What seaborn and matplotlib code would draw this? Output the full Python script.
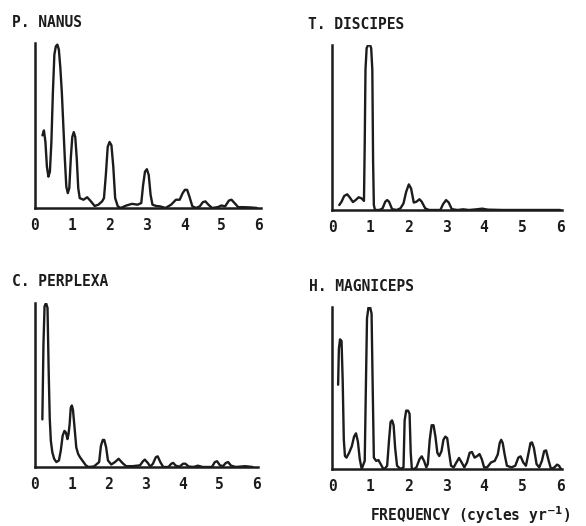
import matplotlib
matplotlib.use("Agg")
import matplotlib.pyplot as plt
import seaborn as sns
import pandas as pd

# Relative spectral power versus frequency (cycles per year) for four species.
nanus_freq = [0.20, 0.24, 0.28, 0.32, 0.36, 0.40, 0.44, 0.48, 0.52, 0.56, 0.60, 0.64,
              0.68, 0.72, 0.76, 0.80, 0.84, 0.88, 0.92, 0.96, 1.00, 1.04, 1.08, 1.12,
              1.16, 1.20, 1.30, 1.40, 1.50, 1.60, 1.70, 1.80, 1.85, 1.90, 1.95, 2.00,
              2.05, 2.10, 2.15, 2.22, 2.30, 2.45, 2.60, 2.75, 2.85, 2.90, 2.95, 3.00,
              3.05, 3.10, 3.15, 3.25, 3.35, 3.50, 3.65, 3.78, 3.88, 3.96, 4.02, 4.08,
              4.14, 4.22, 4.32, 4.42, 4.50, 4.57, 4.65, 4.75, 4.90, 5.00, 5.10, 5.20,
              5.27, 5.35, 5.45, 5.60, 5.80, 5.95]
nanus_power = [0.44, 0.47, 0.40, 0.25, 0.19, 0.22, 0.40, 0.70, 0.93, 0.98, 0.99, 0.96,
               0.85, 0.70, 0.50, 0.30, 0.13, 0.09, 0.12, 0.30, 0.43, 0.46, 0.43, 0.30,
               0.12, 0.06, 0.05, 0.065, 0.04, 0.012, 0.02, 0.04, 0.06, 0.20, 0.37, 0.40,
               0.38, 0.25, 0.06, 0.01, 0.0, 0.015, 0.025, 0.02, 0.03, 0.14, 0.22, 0.235,
               0.20, 0.08, 0.02, 0.012, 0.01, 0.0, 0.02, 0.05, 0.05, 0.09, 0.11, 0.11,
               0.07, 0.01, 0.0, 0.01, 0.035, 0.04, 0.02, 0.0, 0.005, 0.015, 0.01, 0.045,
               0.05, 0.03, 0.005, 0.005, 0.003, 0.0]

discipes_freq = [0.19, 0.25, 0.32, 0.40, 0.47, 0.55, 0.62, 0.70, 0.78, 0.84, 0.86, 0.88,
                 0.91, 0.95, 1.00, 1.03, 1.06, 1.08, 1.10, 1.13, 1.25, 1.33, 1.40, 1.45,
                 1.50, 1.58, 1.70, 1.80, 1.88, 1.95, 2.02, 2.08, 2.15, 2.22, 2.30, 2.36,
                 2.45, 2.55, 2.85, 2.92, 3.00, 3.07, 3.15, 3.30, 3.45, 3.60, 3.80, 3.95,
                 4.10, 4.50, 6.00]
discipes_power = [0.03, 0.05, 0.085, 0.095, 0.075, 0.048, 0.06, 0.077, 0.07, 0.055, 0.40, 0.85,
                  0.98, 1.00, 1.00, 0.98, 0.85, 0.30, 0.03, 0.0, 0.0, 0.01, 0.05, 0.06,
                  0.05, 0.005, 0.0, 0.01, 0.04, 0.11, 0.155, 0.13, 0.045, 0.05, 0.065, 0.05,
                  0.01, 0.0, 0.0, 0.035, 0.06, 0.045, 0.005, 0.0, 0.004, 0.0, 0.004, 0.008,
                  0.002, 0.0, 0.0]

perplexa_freq = [0.20, 0.23, 0.26, 0.30, 0.34, 0.37, 0.40, 0.43, 0.47, 0.52, 0.58, 0.65,
                 0.70, 0.75, 0.80, 0.84, 0.88, 0.91, 0.94, 0.97, 1.00, 1.03, 1.07, 1.12,
                 1.17, 1.22, 1.30, 1.38, 1.45, 1.60, 1.74, 1.79, 1.84, 1.88, 1.93, 1.98,
                 2.07, 2.17, 2.27, 2.37, 2.47, 2.65, 2.85, 2.93, 2.98, 3.06, 3.13, 3.20,
                 3.28, 3.33, 3.40, 3.48, 3.62, 3.70, 3.75, 3.82, 3.92, 4.02, 4.08, 4.17,
                 4.30, 4.42, 4.55, 4.80, 4.88, 4.94, 5.02, 5.10, 5.18, 5.24, 5.32, 5.45,
                 5.70, 5.90]
perplexa_power = [0.29, 0.75, 0.98, 1.00, 0.97, 0.60, 0.30, 0.16, 0.09, 0.05, 0.03, 0.04,
                  0.10, 0.19, 0.22, 0.21, 0.17, 0.20, 0.26, 0.36, 0.375, 0.35, 0.25, 0.12,
                  0.08, 0.06, 0.035, 0.01, 0.0, 0.003, 0.03, 0.13, 0.165, 0.165, 0.12, 0.04,
                  0.015, 0.03, 0.05, 0.025, 0.005, 0.005, 0.01, 0.035, 0.045, 0.025, 0.002, 0.02,
                  0.06, 0.065, 0.03, 0.0, 0.0, 0.02, 0.025, 0.008, 0.002, 0.02, 0.02, 0.003,
                  0.0, 0.008, 0.0, 0.0, 0.03, 0.035, 0.01, 0.005, 0.025, 0.03, 0.008, 0.0,
                  0.005, 0.0]

magniceps_freq = [0.16, 0.18, 0.21, 0.25, 0.28, 0.31, 0.34, 0.38, 0.45, 0.52, 0.58, 0.63,
                  0.68, 0.73, 0.78, 0.86, 0.89, 0.92, 0.96, 1.00, 1.04, 1.07, 1.10, 1.16,
                  1.22, 1.28, 1.35, 1.40, 1.45, 1.50, 1.54, 1.58, 1.62, 1.66, 1.71, 1.80,
                  1.88, 1.91, 1.95, 2.00, 2.04, 2.07, 2.10, 2.16, 2.22, 2.30, 2.36, 2.42,
                  2.48, 2.52, 2.57, 2.62, 2.67, 2.72, 2.77, 2.82, 2.88, 2.93, 2.98, 3.03,
                  3.08, 3.13, 3.20, 3.27, 3.34, 3.41, 3.48, 3.55, 3.62, 3.68, 3.75, 3.82,
                  3.88, 3.94, 4.00, 4.08, 4.18, 4.28, 4.36, 4.41, 4.45, 4.49, 4.54, 4.60,
                  4.72, 4.82, 4.90, 4.96, 5.03, 5.10, 5.17, 5.22, 5.26, 5.31, 5.38, 5.45,
                  5.52, 5.58, 5.63, 5.70, 5.76, 5.85, 5.92, 5.97, 6.02]
magniceps_power = [0.52, 0.74, 0.80, 0.79, 0.55, 0.18, 0.08, 0.07, 0.10, 0.14, 0.20, 0.22,
                   0.17, 0.06, 0.0, 0.05, 0.50, 0.93, 1.00, 1.00, 0.96, 0.50, 0.07, 0.05,
                   0.055, 0.03, 0.0, 0.005, 0.02, 0.18, 0.29, 0.30, 0.27, 0.13, 0.02, 0.0,
                   0.01, 0.30, 0.36, 0.36, 0.34, 0.10, 0.0, 0.0, 0.01, 0.06, 0.078, 0.05,
                   0.01, 0.03, 0.18, 0.27, 0.27, 0.20, 0.10, 0.08, 0.11, 0.18, 0.20, 0.19,
                   0.10, 0.02, 0.01, 0.04, 0.068, 0.04, 0.01, 0.04, 0.10, 0.105, 0.07, 0.08,
                   0.092, 0.06, 0.01, 0.01, 0.04, 0.05, 0.09, 0.16, 0.18, 0.16, 0.09, 0.02,
                   0.01, 0.02, 0.07, 0.078, 0.04, 0.02, 0.10, 0.16, 0.164, 0.13, 0.03, 0.01,
                   0.05, 0.11, 0.115, 0.05, 0.0, 0.01, 0.027, 0.02, 0.0]

species = ["P. NANUS", "T. DISCIPES", "C. PERPLEXA", "H. MAGNICEPS"]
freqs = [nanus_freq, discipes_freq, perplexa_freq, magniceps_freq]
powers = [nanus_power, discipes_power, perplexa_power, magniceps_power]
x_ticks = [0, 1, 2, 3, 4, 5, 6]
y_ticks = [0.0, 0.2, 0.4, 0.6, 0.8, 1.0]

sns.set_style("white")
plt.rcParams["font.family"] = ["DejaVu Sans Mono", "DejaVu Sans"]
plt.rcParams["font.weight"] = "bold"

ink = "#1c1c1c"
fig = plt.figure(figsize=(5.86, 5.26), dpi=100)

# axes boxes [left, bottom, width, height] in figure fractions
boxes = [
    [0.0597, 0.6046, 0.3850, 0.3137],
    [0.5666, 0.6008, 0.3925, 0.3137],
    [0.0597, 0.1122, 0.3805, 0.3118],
    [0.5666, 0.1084, 0.3925, 0.3080],
]
title_pos = [(0.021, 0.958), (0.526, 0.954), (0.021, 0.465), (0.527, 0.456)]

for name, fx, py, box, tpos in zip(species, freqs, powers, boxes, title_pos):
    ax = fig.add_axes(box)
    df = pd.DataFrame({"freq": fx, "power": py})
    sns.lineplot(data=df, x="freq", y="power", ax=ax, color=ink, lw=1.7,
                 estimator=None, sort=False)
    ax.set_xlim(0, 6.05)
    ax.set_ylim(0, 1.0)
    for side in ("top", "right"):
        ax.spines[side].set_visible(False)
    for side in ("left", "bottom"):
        ax.spines[side].set_color(ink)
        ax.spines[side].set_linewidth(1.8)
    ax.set_xticks(x_ticks)
    ax.set_xticklabels([str(t) for t in x_ticks], fontsize=10.5, color=ink,
                       fontweight="bold")
    ax.set_yticks(y_ticks)
    ax.set_yticklabels([])
    ax.tick_params(axis="x", length=0, pad=7)
    ax.tick_params(axis="y", direction="in", length=2, width=0.8, color=ink)
    ax.set_xlabel("")
    ax.set_ylabel("")
    ax.patch.set_alpha(0)
    fig.text(tpos[0], tpos[1], name, fontsize=10.5, fontweight="bold", color=ink,
             va="center", ha="left")

fig.text(0.632, 0.021, r"FREQUENCY (cycles yr$^{-1}$)", fontsize=10.5,
         fontweight="bold", color=ink, ha="left", va="center")

fig.savefig("out.png", dpi=100, facecolor="white")
